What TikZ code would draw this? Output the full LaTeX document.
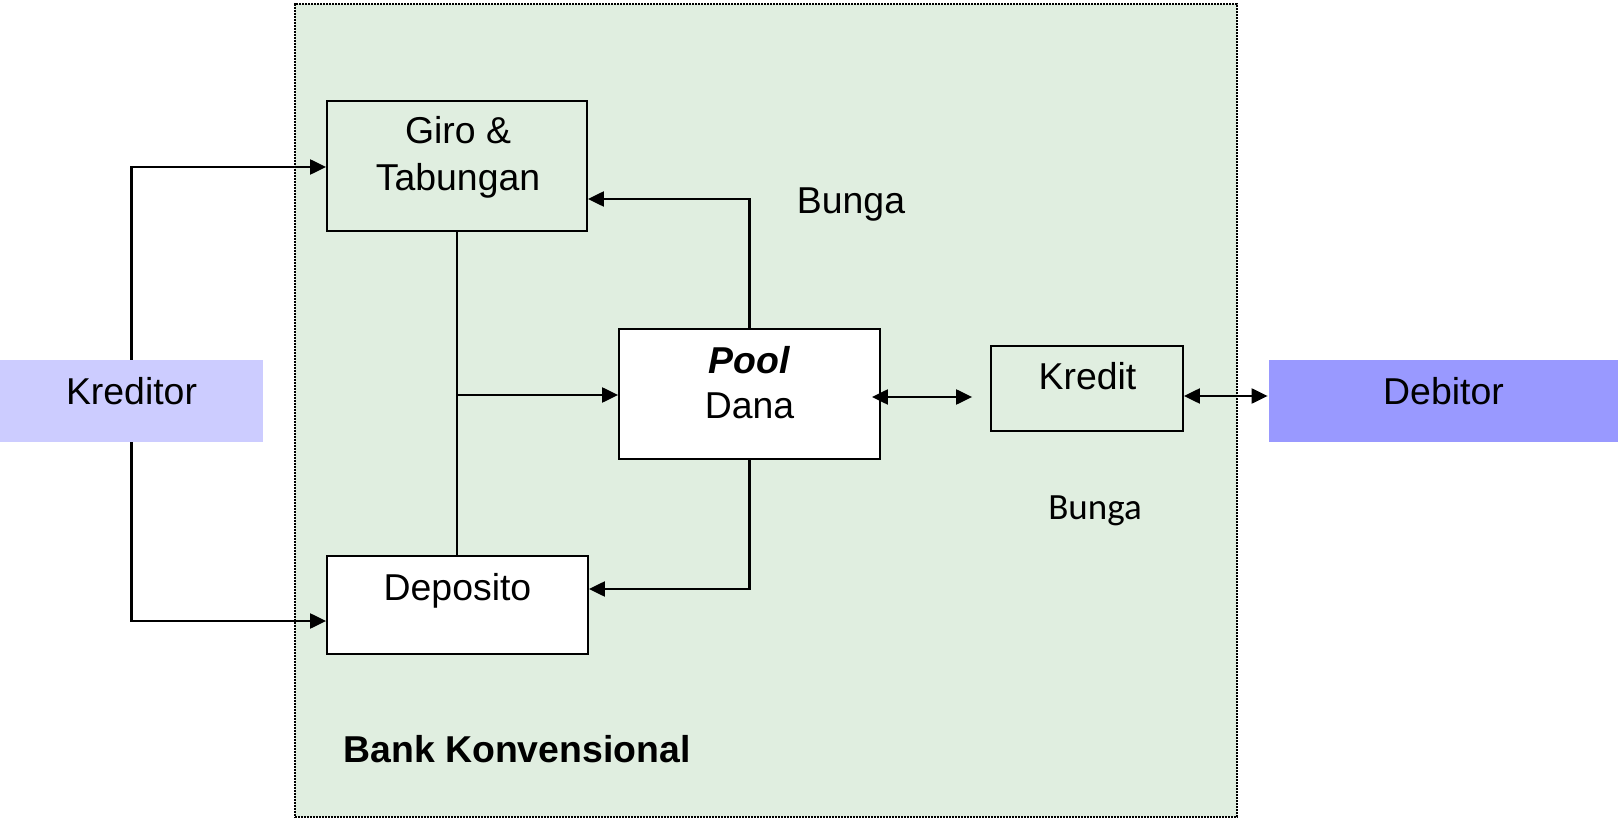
\documentclass[tikz,border=0pt]{standalone}
\usepackage{fontspec}
\setmainfont{Liberation Sans}
\newfontfamily\carlitofont{Carlito}
\usetikzlibrary{arrows.meta,calc}
\definecolor{bankgreen}{RGB}{224,238,224}
\definecolor{kredcol}{RGB}{204,204,255}
\definecolor{debcol}{RGB}{153,153,255}
\begin{document}
\begin{tikzpicture}[x=0.5pt,y=-0.5pt,
  every node/.style={font=\fontsize{18.7pt}{22pt}\selectfont},
  box/.style={draw=black,line width=0.9pt,inner sep=0pt,rectangle},
  party/.style={inner sep=0pt,rectangle,draw=none},
  txt/.style={anchor=base,inner sep=0pt},
  conn/.style={line width=1.1pt},
  arr/.style={line width=1.1pt,-{Triangle[length=8pt,width=7.5pt]}},
  dbl/.style={line width=1.1pt,{Triangle[length=8pt,width=7.5pt]}-{Triangle[length=8pt,width=7.5pt]}}]
\useasboundingbox (0,0) rectangle (1618,818);
% bank area
\node[rectangle,inner sep=0pt,fill=bankgreen,draw=black,line width=0.8pt,
  dash pattern=on 0.8pt off 0.7pt,minimum width=471pt,minimum height=406.5pt] (bank) at (766,410.5) {};
% boxes
\node[box,minimum width=130pt,minimum height=65pt] (giro) at (457,166) {};
\node[box,fill=white,minimum width=130.5pt,minimum height=65pt] (pool) at (749.5,394) {};
\node[box,minimum width=96pt,minimum height=42.5pt] (kredit) at (1087,388.5) {};
\node[box,fill=white,minimum width=130.5pt,minimum height=49pt] (deposito) at (457.5,605) {};
\node[party,fill=kredcol,minimum width=131.5pt,minimum height=41pt] (kreditor) at (131.5,401) {};
\node[party,fill=debcol,minimum width=174.5pt,minimum height=41pt] (debitor) at (1443.5,401) {};
% texts
\node[txt] (girot1) at (458,144) {Giro \&};
\node[txt] (girot2) at (458,191) {Tabungan};
\node[txt] (poolt1) at (749.5,373) {\textbf{\textit{Pool}}};
\node[txt] (poolt2) at (749.5,418) {Dana};
\node[txt] (kreditt) at (1087.5,389) {Kredit};
\node[txt] (depot) at (457.5,600) {Deposito};
\node[txt] (kreditort) at (131.5,405) {Kreditor};
\node[txt] (debitort) at (1443.5,405) {Debitor};
\node[txt] (bunga1) at (851,214) {Bunga};
\node[txt,font=\carlitofont\fontsize{18.5pt}{22pt}\selectfont] (bunga2) at (1095,519) {Bunga};
\node[txt,anchor=base west,font=\bfseries\fontsize{18.7pt}{22pt}\selectfont] (bankt) at (343,762) {Bank Konvensional};
% connectors
\draw[arr] (kreditor.north) |- ($(giro.west)+(0,1)$);
\draw[arr] (kreditor.south) |- ($(deposito.west)+(0,16)$);
\draw[conn] (giro.south) -- (deposito.north -| giro.south);
\coordinate (junc) at ($(giro.south |- pool.west)+(0,1)$);
\draw[arr] (junc) -- (junc -| pool.west);
\draw[arr] (pool.north) |- ($(giro.east)+(0,33)$);
\draw[arr] (pool.south) |- ($(deposito.east)+(0,-16)$);
\coordinate (pk) at ($(pool.east)+(-9,3)$);
\draw[dbl,shorten >=9pt] (pk) -- (pk -| kredit.west);
\coordinate (kd) at ($(kredit.east)+(0,7.5)$);
\draw[dbl,shorten >=0.5pt] (kd) -- (kd -| debitor.west);
\end{tikzpicture}
\end{document}
